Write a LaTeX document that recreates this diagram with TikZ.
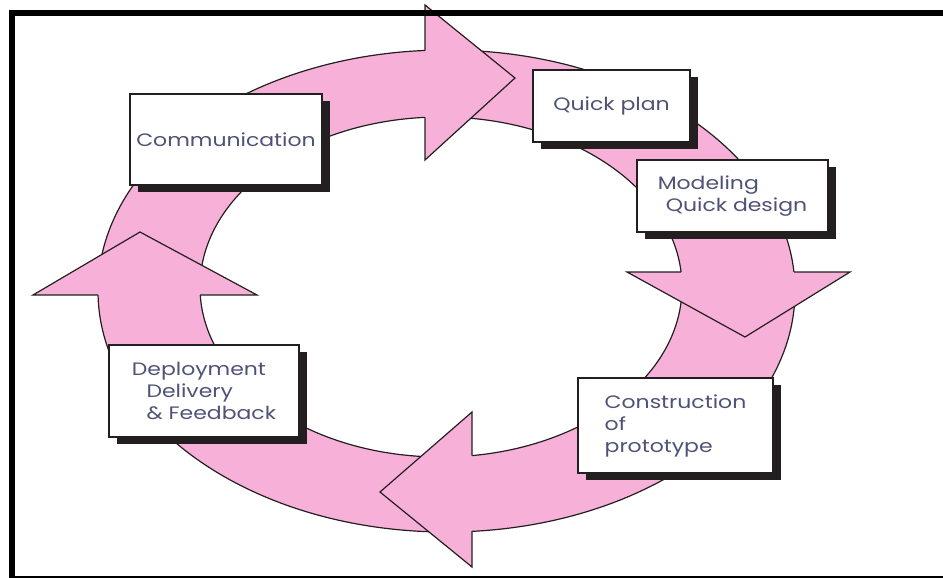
\documentclass[tikz,border=0pt]{standalone}
\usepackage{fontspec}
\newfontfamily\stagefont[FakeStretch=1.22]{Poppins}
\usetikzlibrary{shadows}
\definecolor{ringpink}{RGB}{247,176,216}
\definecolor{stagetext}{RGB}{78,82,118}
\definecolor{edgegray}{RGB}{35,31,32}

\tikzset{
  ring edge/.style={draw=edgegray, line width=0.9pt, line join=miter},
  stage/.style={draw=edgegray, line width=1.1pt, fill=white, inner sep=0pt,
    font=\stagefont\fontsize{13.5}{16.5}\selectfont, text=stagetext, align=left,
    drop shadow={shadow xshift=6pt, shadow yshift=-5.25pt, fill=edgegray, opacity=1}},
  frame/.style={draw=black, line width=4.5pt},
}

\begin{document}
\begin{tikzpicture}[x=0.75pt,y=0.75pt,yscale=-1,xscale=1]
\clip (0,0) rectangle (943,578);
% ring
\fill [ringpink, even odd rule] (446.5,291) ellipse [x radius=348.5, y radius=241] (441,287) ellipse [x radius=241, y radius=170];
\draw [ring edge] (446.5,291) ellipse [x radius=348.5, y radius=241];
\draw [ring edge] (441,287) ellipse [x radius=241, y radius=170];
% heads
\fill [ringpink] (425,5) -- (515,78) -- (425,160) -- cycle;
\draw [ring edge] (425,50.5) -- (425,5) -- (515,78) -- (425,160) -- (425,117.4);
\fill [ringpink] (627,272) -- (745,337) -- (850,272) -- cycle;
\draw [ring edge] (681,272) -- (627,272) -- (745,337) -- (850,272) -- (794,272);
\fill [ringpink] (472,412) -- (380,492) -- (472,567) -- cycle;
\draw [ring edge] (472,455.6) -- (472,412) -- (380,492) -- (472,567) -- (472,531);
\fill [ringpink] (33,295) -- (140,232) -- (257,295) -- cycle;
\draw [ring edge] (98,295) -- (33,295) -- (140,232) -- (257,295) -- (200,295);
% stages
\node [stage, minimum width=144pt, minimum height=68.25pt] (comm) at (226,139.5) {Communication};
\node [stage, minimum width=117.75pt, minimum height=54pt] (plan) at (611.5,106) {Quick plan};
\node [stage, minimum width=143.25pt, minimum height=54pt] (model) at (732.5,196) {Modeling\\\hspace{6pt}Quick design};
\node [stage, minimum width=146.25pt, minimum height=71.25pt] (build) at (675.5,425.5) {Construction\\of\\prototype};
\node [stage, minimum width=142.5pt, minimum height=69pt] (deploy) at (204,391) {Deployment\\\hspace{11pt}Delivery\\\hspace{11pt}\& Feedback};
% frame
\draw [frame] (11.5,12.5) rectangle (960,579);
\end{tikzpicture}
\end{document}
